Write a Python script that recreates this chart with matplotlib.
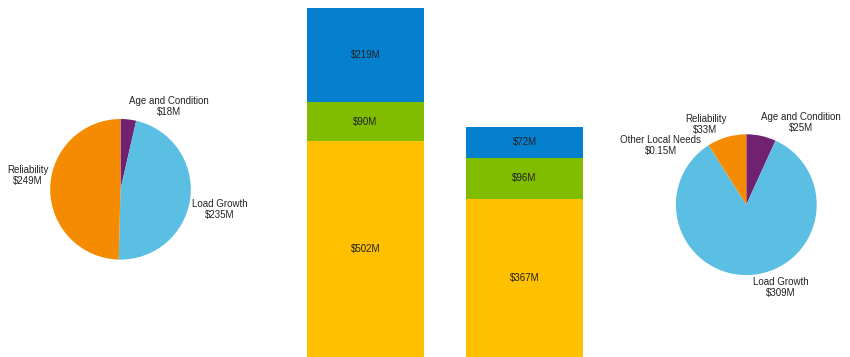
import matplotlib.pyplot as plt

plt.rcParams["font.family"] = ["Liberation Sans", "DejaVu Sans"]

# left pie (clockwise from top)
left_labels = ["Age and Condition", "Load Growth", "Reliability"]
left_values = [18, 235, 249]
left_text = ["$18M", "$235M", "$249M"]

# right pie (clockwise from top)
right_labels = ["Age and Condition", "Load Growth", "Other Local Needs", "Reliability"]
right_values = [25, 309, 0.15, 33]
right_text = ["$25M", "$309M", "$0.15M", "$33M"]

# stacked bars, bottom to top
bar_bottom = [502, 367]
bar_middle = [90, 96]
bar_top = [219, 72]

PIE_COLORS = {
    "Age and Condition": "#702270",
    "Load Growth": "#5BBFE3",
    "Other Local Needs": "#A0A0A0",
    "Reliability": "#F58B00",
}
BAR_COLORS = ["#FFC000", "#80BC00", "#0580CE"]
TEXT = "#222222"
FS = 7

W, H = 850, 357


def px_axes(fig, cx, cy, r):
    return fig.add_axes([(cx - r) / W, 1 - (cy + r) / H, 2 * r / W, 2 * r / H])


def draw_pie(ax, labels, values, texts, label_pos):
    ax.pie(values, colors=[PIE_COLORS[l] for l in labels], startangle=90,
           counterclock=False, radius=1, wedgeprops=dict(linewidth=0))
    ax.set_xlim(-1, 1)
    ax.set_ylim(-1, 1)
    ax.set_aspect("equal")
    ax.axis("off")
    for lab, txt, (x, y) in zip(labels, texts, label_pos):
        ax.text(x, y, f"{lab}\n{txt}", ha="center", va="center", fontsize=FS,
                color=TEXT, clip_on=False, linespacing=1.15)


fig = plt.figure(figsize=(W / 100, H / 100), dpi=100)

ax_l = px_axes(fig, 120.5, 189.3, 70.3)
draw_pie(ax_l, left_labels, left_values, left_text,
         [(0.69, 1.175), (1.408, -0.285), (-1.316, 0.192)])

ax_r = px_axes(fig, 746.3, 204.7, 70.4)
draw_pie(ax_r, right_labels, right_values, right_text,
         [(0.777, 1.163), (0.486, -1.172), (-1.212, 0.845), (-0.58, 1.143)])

ax_b = fig.add_axes([286 / W, 0, 318 / W, 1])
x = [0, 1]
bottoms = [0, 0]
for vals, color in zip([bar_bottom, bar_middle, bar_top], BAR_COLORS):
    bars = ax_b.bar(x, vals, bottom=bottoms, width=0.742, color=color, linewidth=0)
    ax_b.bar_label(bars, labels=[f"${v}M" for v in vals], label_type="center",
                   fontsize=FS, color=TEXT)
    bottoms = [b + v for b, v in zip(bottoms, vals)]
ax_b.set_xlim(-0.5, 1.5)
ax_b.set_ylim(0, 830)
ax_b.axis("off")

fig.savefig("out.png", dpi=100)
